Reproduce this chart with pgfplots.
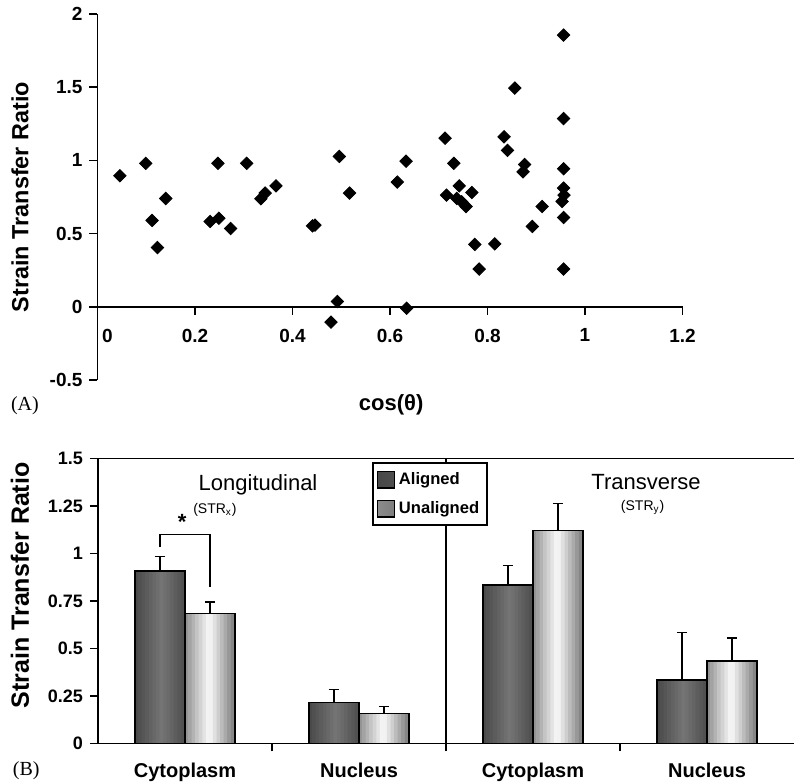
\documentclass[border=0pt]{standalone}
\usepackage{fontspec}
\setmainfont{Liberation Sans}
\newfontfamily\seriffont{Liberation Serif}
\usepackage{pgfplots}
\pgfplotsset{compat=1.18}
\pgfplotsset{
  errs/.style={error bars/.cd, y dir=plus, y explicit,
    error bar style={line width=0.75pt, black},
    error mark options={rotate=90, mark size=2.6pt, line width=0.75pt, black}},
}
% bar centres (category +- half bar width) and heights
\def\aligneddata{(-0.1435,0.907) (0.8565,0.216) (1.8565,0.833) (2.8565,0.333)}
\def\unaligneddata{(0.1435,0.684) (1.1435,0.158) (2.1435,1.119) (3.1435,0.433)}
\begin{document}
\begin{tikzpicture}
\useasboundingbox (0,0) rectangle (397pt,-391pt);
% ---------- (A) scatter ----------
\begin{axis}[
  at={(48.75pt,-190pt)}, anchor=south west,
  scale only axis, width=292.5pt, height=183pt,
  xmin=0, xmax=1.2, ymin=-0.5, ymax=2,
  axis lines=middle, axis line style={-, line width=0.75pt},
  hide obscured x ticks=false, hide obscured y ticks=false,
  tick align=outside, major tick length=4pt,
  tick style={line width=0.75pt, black},
  xtick={0,0.2,0.4,0.6,0.8,1,1.2},
  xticklabels={\hspace*{10pt}0,0.2,0.4,0.6,0.8,1,1.2},
  ytick={-0.5,0,0.5,1,1.5,2},
  /pgf/number format/assume math mode=true,
  ticklabel style={font=\fontsize{9.5}{11}\selectfont\bfseries},
  xticklabel style={yshift=-3.5pt},
  xlabel={cos(θ)},
  every axis x label/.style={at={(axis description cs:0.502,-0.068)}, anchor=center, font=\fontsize{11}{13}\selectfont\bfseries},
  ylabel={Strain Transfer Ratio},
  every axis y label/.style={at={(axis description cs:-0.1325,0.5)}, rotate=90, anchor=center, font=\fontsize{11.7}{13}\selectfont\bfseries},
  clip=false,
]
\addplot[only marks, black, mark=square*, mark size=2.2pt, mark options={rotate=45, fill=black}] table {
x y
0.046 0.895
0.099 0.98
0.112 0.59
0.123 0.405
0.140 0.74
0.231 0.583
0.249 0.605
0.247 0.98
0.273 0.535
0.306 0.98
0.335 0.738
0.344 0.777
0.366 0.826
0.441 0.553
0.446 0.558
0.496 1.027
0.517 0.777
0.492 0.036
0.479 -0.105
0.615 0.852
0.633 0.995
0.634 -0.01
0.713 1.152
0.731 0.98
0.716 0.763
0.742 0.826
0.737 0.74
0.747 0.717
0.756 0.685
0.768 0.781
0.774 0.426
0.783 0.258
0.815 0.43
0.834 1.161
0.841 1.068
0.856 1.494
0.876 0.972
0.873 0.922
0.892 0.549
0.912 0.685
0.956 1.856
0.956 1.286
0.956 0.943
0.956 0.811
0.957 0.763
0.953 0.72
0.956 0.61
0.956 0.258
};
\node[font=\fontsize{10}{12}\selectfont\seriffont] at (axis description cs:-0.124,-0.071) {(A)};
\end{axis}
% ---------- (B) bars ----------
\begin{axis}[
  at={(49pt,-371.65pt)}, anchor=south west,
  scale only axis, width=348pt, height=142.5pt,
  xmin=-0.5, xmax=3.5, ymin=0, ymax=1.5,
  axis x line*=bottom, axis y line*=left, axis line style={-, line width=0.75pt},
  tick align=outside, major tick length=4pt,
  tick style={line width=0.75pt, black},
  ytick={0,0.25,0.5,0.75,1,1.25,1.5},
  xtick={0.5,1.5,2.5}, xticklabels={},
  extra x ticks={0,1,2,3},
  extra x tick labels={Cytoplasm,Nucleus,Cytoplasm,Nucleus},
  extra x tick style={tick style={draw=none}},
  /pgf/number format/assume math mode=true,
  yticklabel style={font=\fontsize{9}{11}\selectfont\bfseries},
  xticklabel style={font=\fontsize{10}{12}\selectfont\bfseries, yshift=-2.5pt},
  ylabel={Strain Transfer Ratio},
  every axis y label/.style={at={(axis description cs:-0.112,0.554)}, rotate=90, anchor=center, font=\fontsize{12.5}{14}\selectfont\bfseries},
  legend style={at={(0.394,0.986)}, anchor=north west, draw=black, line width=0.75pt, fill=white,
    font=\fontsize{8.3}{9.5}\selectfont\bfseries, inner xsep=2pt, inner ysep=2.5pt, row sep=3pt,
    cells={anchor=west}},
  clip=false,
  after end axis/.code={\draw[line width=0.75pt] (rel axis cs:0,1) -- (rel axis cs:1,1);},
]
% gradient strips of each bar
\pgfplotsinvokeforeach{0,...,13}{
  \pgfmathsetmacro\tt{(#1+0.5)/14}
  \pgfmathsetmacro\ga{\tt<0.55 ? 72+(118-72)*\tt/0.55 : 78+(118-78)*(1-\tt)/0.45}
  \pgfmathtruncatemacro\gA{\ga}
  \pgfmathsetmacro\gu{\tt<0.5 ? 140+(252-140)*\tt/0.5 : 125+(252-125)*(1-\tt)/0.5}
  \pgfmathtruncatemacro\gU{\gu}
  \pgfmathsetmacro\sh{-0.1435+(#1+0.5)*0.0205}
  \edef\tmp{\noexpand\addplot[ybar, bar width=0.027, bar shift=\sh, draw=none,
     fill={rgb,255:red,\gA;green,\gA;blue,\gA}, forget plot] coordinates {\aligneddata};
   \noexpand\addplot[ybar, bar width=0.027, bar shift=\sh, draw=none,
     fill={rgb,255:red,\gU;green,\gU;blue,\gU}, forget plot] coordinates {\unaligneddata};}
  \tmp
}
% outlines and error bars
\addplot[ybar, bar width=0.287, bar shift=0pt, draw=black, fill=none, line width=0.75pt,
  legend image code/.code={\shadedraw[left color={rgb,255:red,72;green,72;blue,72}, middle color={rgb,255:red,118;green,118;blue,118}, right color={rgb,255:red,78;green,78;blue,78}, draw=black, line width=0.6pt] (0pt,-4.2pt) rectangle (8.4pt,4.2pt);},
  errs] coordinates {(-0.1435,0.907) +- (0,0.075) (0.8565,0.216) +- (0,0.068) (1.8565,0.833) +- (0,0.102) (2.8565,0.333) +- (0,0.249)};
\addlegendentry{Aligned}
\addplot[ybar, bar width=0.287, bar shift=0pt, draw=black, fill=none, line width=0.75pt,
  legend image code/.code={\shadedraw[left color={rgb,255:red,140;green,140;blue,140}, middle color=white, right color={rgb,255:red,125;green,125;blue,125}, draw=black, line width=0.6pt] (0pt,-4.2pt) rectangle (8.4pt,4.2pt);},
  errs] coordinates {(0.1435,0.684) +- (0,0.061) (1.1435,0.158) +- (0,0.035) (2.1435,1.119) +- (0,0.144) (3.1435,0.433) +- (0,0.12)};
\addlegendentry{Unaligned}
% significance bracket
\addplot[black, line width=0.6pt, mark=none, forget plot] coordinates {(-0.1435,1.033) (-0.1435,1.10) (0.1435,1.10) (0.1435,0.823)};
\draw[line width=0.75pt] (axis cs:1.5,0) -- (axis cs:1.5,1.5);
\node[font=\fontsize{11}{13}\selectfont] at (axis cs:0.42,1.36) {Longitudinal};
\node[font=\fontsize{7}{8}\selectfont] at (axis cs:0.172,1.228) {(STR\textsubscript{x})};
\node[font=\fontsize{11}{13}\selectfont] at (axis cs:2.65,1.375) {Transverse};
\node[font=\fontsize{7}{8}\selectfont] at (axis cs:2.63,1.24) {(STR\textsubscript{y})};
\node[font=\fontsize{11}{13}\selectfont\bfseries] at (axis cs:-0.017,1.165) {*};
\node[font=\fontsize{10}{12}\selectfont\seriffont] at (axis description cs:-0.103,-0.095) {(B)};
\end{axis}
\end{tikzpicture}
\end{document}
